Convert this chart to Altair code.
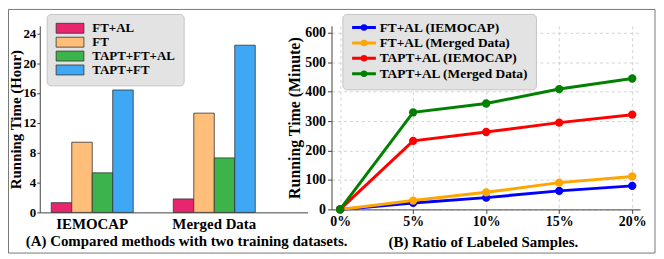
import altair as alt
import pandas as pd

FONT = "Liberation Serif"

# ---- Panel A data ----
datasets = ["IEMOCAP", "Merged Data"]
methods = ["FT+AL", "FT", "TAPT+FT+AL", "TAPT+FT"]
hours_iemocap = [1.3, 9.4, 5.3, 16.4]
hours_merged = [1.8, 13.3, 7.3, 22.4]
bar_colors = ["#E8256F", "#FFBF7A", "#3CB44B", "#3FA8F5"]
hour_ticks = [0, 4, 8, 12, 16, 20, 24]

# ---- Panel B data ----
ratios = [0, 5, 10, 15, 20]
series = ["FT+AL (IEMOCAP)", "FT+AL (Merged Data)", "TAPT+AL (IEMOCAP)", "TAPT+AL (Merged Data)"]
ft_al_iemocap = [0, 22, 40, 63, 80]
ft_al_merged = [0, 30, 58, 91, 112]
tapt_al_iemocap = [0, 233, 263, 295, 322]
tapt_al_merged = [0, 330, 360, 409, 445]
line_colors = ["#0000FF", "#FFA500", "#FF0000", "#008000"]
minute_ticks = [0, 100, 200, 300, 400, 500, 600]

bar_df = pd.DataFrame({
    "dataset": [d for d in datasets for _ in methods],
    "method": methods * 2,
    "hours": hours_iemocap + hours_merged,
})

line_df = pd.DataFrame({
    "ratio": ratios * 4,
    "series": [s for s in series for _ in ratios],
    "minutes": ft_al_iemocap + ft_al_merged + tapt_al_iemocap + tapt_al_merged,
})

bars = alt.Chart(bar_df).mark_bar(stroke="#333333", strokeWidth=0.8).encode(
    x=alt.X("dataset:N", sort=datasets,
            scale=alt.Scale(paddingInner=0.3285, paddingOuter=0.262, align=0.18),
            axis=alt.Axis(title="(A) Compared methods with two training datasets.",
                          labelAngle=0, tickSize=0, labelPadding=4, labelFontSize=15,
                          titleX=147.5, titleY=33.5, titleBaseline="alphabetic",
                          titleAlign="center", titleFontSize=15)),
    xOffset=alt.XOffset("method:N", sort=methods,
                        scale=alt.Scale(paddingInner=0, paddingOuter=0)),
    y=alt.Y("hours:Q", scale=alt.Scale(domain=[0, 25], nice=False),
            axis=alt.Axis(values=hour_ticks, title="Running Time (Hour)", grid=False,
                          titleX=-24.5, titleBaseline="middle", titleFontSize=15,
                          labelFontSize=13, labelPadding=1, tickSize=3)),
    color=alt.Color("method:N", sort=methods,
                    scale=alt.Scale(domain=methods, range=bar_colors),
                    legend=alt.Legend(title=None, orient="none", legendX=7, legendY=-12,
                                      symbolType="M-2.8,-1H2.8V1H-2.8Z", symbolSize=100,
                                      symbolOffset=9,
                                      symbolStrokeColor="#333333", symbolStrokeWidth=0.8,
                                      symbolOpacity=1,
                                      labelFont=FONT, labelFontSize=13, labelFontWeight="bold",
                                      labelColor="black",
                                      fillColor="#e3e3e3", strokeColor="#c4c4c4",
                                      cornerRadius=4, padding=8, rowPadding=-1, labelOffset=16)),
)

frame_df = pd.DataFrame({"k": [0]})
frame = alt.Chart(frame_df).mark_rect(fillOpacity=0, stroke="#777777", strokeWidth=1).encode(
    x=alt.value(-31.5), x2=alt.value(620), y=alt.value(-16.5), y2=alt.value(229)
)

left = alt.layer(bars, frame).properties(width=270, height=188)

line_legend = alt.Legend(title=None, orient="none", legendX=11, legendY=-12,
                         symbolType="M-2.4,0H2.4M0.36,0A0.36,0.36,0,1,1,-0.36,0A0.36,0.36,0,1,1,0.36,0Z",
                         symbolSize=100, symbolStrokeWidth=3, symbolOffset=8,
                         labelFont=FONT, labelFontSize=13.5, labelFontWeight="bold",
                         labelColor="black",
                         fillColor="#e3e3e3", strokeColor="#c4c4c4",
                         cornerRadius=4, padding=7, rowPadding=-1.5, labelOffset=9)

base = alt.Chart(line_df).encode(
    x=alt.X("ratio:Q", scale=alt.Scale(domain=[-0.59, 20.54], nice=False, zero=False),
            axis=alt.Axis(values=ratios, labelExpr="datum.value + '%'",
                          title="(B) Ratio of Labeled Samples.", labelFontSize=14,
                          labelPadding=1, grid=True, gridDash=[3, 3], gridColor="#c8c8c8",
                          gridWidth=0.8,
                          titleX=152.5, titleY=37, titleBaseline="alphabetic",
                          titleAlign="center", titleFontSize=15)),
    y=alt.Y("minutes:Q", scale=alt.Scale(domain=[0, 624], nice=False),
            axis=alt.Axis(values=minute_ticks, title="Running Time (Minute)",
                          grid=True, gridDash=[3, 3], gridColor="#c8c8c8", gridWidth=0.8,
                          titleX=-37, titleBaseline="middle", labelPadding=2)),
    color=alt.Color("series:N", sort=series,
                    scale=alt.Scale(domain=series, range=line_colors),
                    legend=line_legend),
)

lines = base.mark_line(strokeWidth=3)
points = base.mark_circle(size=70, opacity=1)

right = alt.layer(lines, points).properties(width=311, height=185)

chart = alt.hconcat(left, right, spacing=24, bounds="flush").resolve_scale(
    color="independent"
).resolve_legend(color="independent").properties(
    padding={"left": 0, "top": 0, "right": 0, "bottom": 0},
    background="white",
).configure_view(stroke=None).configure_axis(
    labelFont=FONT, labelFontWeight="bold", labelColor="black", labelFontSize=14,
    titleFont=FONT, titleFontWeight="bold", titleColor="black", titleFontSize=16,
    domainColor="#444444", tickColor="#444444", tickSize=4,
)

chart.save("out.html", embed_options={"renderer": "svg", "actions": False})
